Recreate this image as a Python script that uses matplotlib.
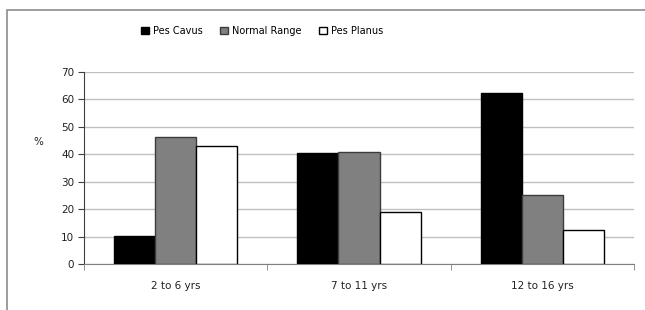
import numpy as np
from matplotlib import pyplot as plt
from matplotlib.patches import Rectangle

categories = ['2 to 6 yrs', '7 to 11 yrs', '12 to 16 yrs']
series_names = ['Pes Cavus', 'Normal Range', 'Pes Planus']
pes_cavus = [10.3, 40.4, 62.5]
normal_range = [46.3, 40.8, 25.0]
pes_planus = [43.0, 19.0, 12.5]
y_ticks = [0, 10, 20, 30, 40, 50, 60, 70]

fig = plt.figure(figsize=(6.45, 3.10), dpi=100)
fig.patches.append(Rectangle((7/645, -0.1), 1.0, 1.1 - 10/310, transform=fig.transFigure,
                             fill=False, edgecolor='#8c8c8c', linewidth=1.2))
ax = fig.add_axes([84/645, 46/310, 550/645, 192/310])

x = np.arange(len(categories))
w = 0.224
styles = [('black', 'black'), ('#808080', '#3c3c3c'), ('white', 'black')]
for i, (vals, name) in enumerate(zip([pes_cavus, normal_range, pes_planus], series_names)):
    fc, ec = styles[i]
    ax.bar(x + (i - 1) * w, vals, w, color=fc, edgecolor=ec, linewidth=1.0, label=name, zorder=3)

ax.set_xlim(-0.5, 2.5)
ax.set_ylim(0, 70)
ax.set_yticks(y_ticks)
ax.yaxis.grid(True, color='#c0c0c0', linewidth=1.0, zorder=0)
ax.set_axisbelow(True)
ax.set_xticks(x)
ax.set_xticklabels(categories)
ax.set_xticks([-0.5, 0.5, 1.5, 2.5], minor=True)
ax.tick_params(axis='x', which='major', length=0, pad=12, labelsize=7.5, colors='#222222')
ax.tick_params(axis='x', which='minor', length=4, color='#808080')
ax.tick_params(axis='y', length=4, color='#404040', labelsize=7.5, labelcolor='#222222', pad=3)
for s in ['top', 'right']:
    ax.spines[s].set_visible(False)
ax.spines['left'].set_color('#404040')
ax.spines['bottom'].set_color('#808080')
ax.set_ylabel('%', rotation=0, fontsize=7.5, color='#222222')
ax.yaxis.set_label_coords(-46/550, 117/192)

fig.legend(loc='center', bbox_to_anchor=(262/645, 1 - 31/310), ncol=3, frameon=False,
           fontsize=7, handlelength=0.8, handleheight=0.8, handletextpad=0.4, columnspacing=1.8)

fig.savefig('out.png', dpi=100)
